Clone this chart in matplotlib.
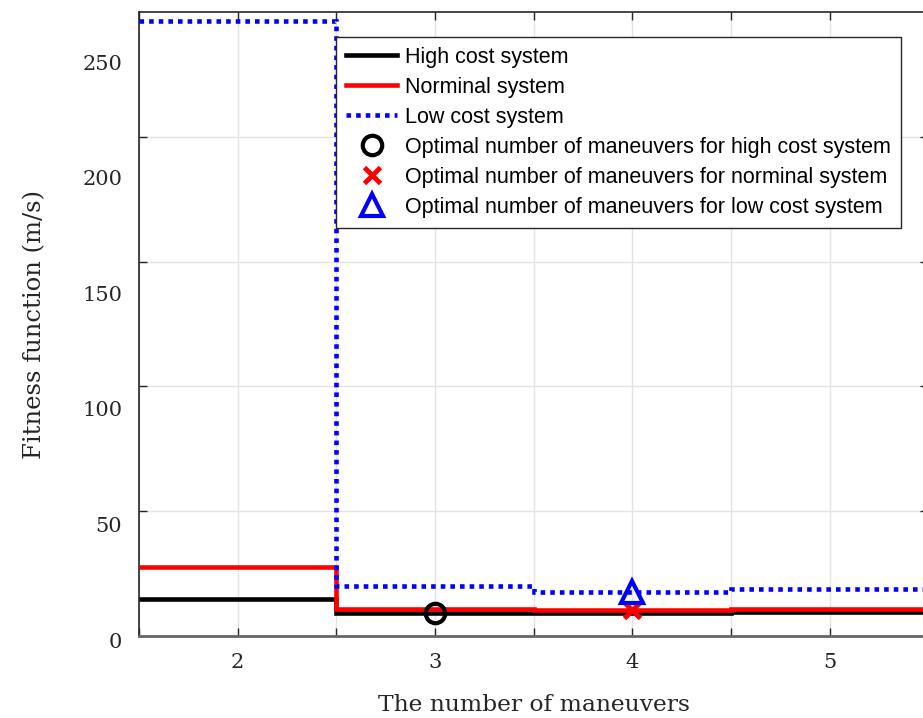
import numpy as np
import matplotlib.pyplot as plt
import matplotlib.transforms as mtransforms

# maneuver counts and the step edges between them
maneuvers = [2, 3, 4, 5]
edges = [1.5, 2.5, 3.5, 4.5, 5.5]

# fitness function (m/s) for each system
high_cost = [15.8, 9.9, 10.1, 10.2]
nominal = [29.7, 11.5, 11.2, 11.7]
low_cost = [266.0, 21.7, 19.1, 20.3]

# optimal maneuver count of each system
opt_high = 3
opt_nominal = 4
opt_low = 4

y_labels = [0, 50, 100, 150, 200, 250]
y_top = 270

fig = plt.figure(figsize=(9.23, 7.18), dpi=100)
ax = fig.add_axes([0.1506, 0.1142, 0.855, 0.869])

ax.stairs(high_cost, edges, baseline=None, color='black', linewidth=3.3,
          label='High cost system', zorder=3)
ax.stairs(nominal, edges, baseline=None, color='red', linewidth=3.3,
          label='Norminal system', zorder=4)
ax.stairs(low_cost, edges, baseline=None, color='blue', linewidth=3.3,
          linestyle=(0, (1, 1.1)), label='Low cost system', zorder=5)

ax.plot(opt_high, high_cost[maneuvers.index(opt_high)], 'o', color='black',
        markersize=14, markeredgewidth=3, markerfacecolor='none',
        label='Optimal number of maneuvers for high cost system', zorder=6)
ax.plot(opt_nominal, nominal[maneuvers.index(opt_nominal)], 'x', color='red',
        markersize=12, markeredgewidth=3.5,
        label='Optimal number of maneuvers for norminal system', zorder=6)
ax.plot(opt_low, low_cost[maneuvers.index(opt_low)], '^', color='blue',
        markersize=16, markeredgewidth=3, markerfacecolor='none',
        label='Optimal number of maneuvers for low cost system', zorder=6)

ax.set_xlim(1.5, 5.5)
ax.set_ylim(0, y_top)

# x: ticks every half step, labels only on whole counts
xt = np.arange(1.5, 5.51, 0.5)
ax.set_xticks(xt)
ax.set_xticklabels([str(int(v)) if v == int(v) else '' for v in xt])

# y: labels and the grid/tick marks sit on separate positions
ax.set_yticks(y_labels)
ax.set_yticks(np.linspace(0, y_top, 6)[1:-1], minor=True)
ax.tick_params(axis='y', which='major', length=0, pad=12)
ax.tick_params(axis='y', which='minor', direction='in', length=6, width=1,
               color='#262626', left=True, right=True)
ax.tick_params(axis='x', which='major', direction='in', length=6, width=1,
               color='#262626', top=True, bottom=True, pad=12)
ax.tick_params(labelsize=15, labelcolor='#262626')
shift = mtransforms.ScaledTranslation(0, -4 / 100, fig.dpi_scale_trans)
for lab in ax.get_yticklabels():
    lab.set_family('DejaVu Serif')
    lab.set_transform(lab.get_transform() + shift)
for lab in ax.get_xticklabels():
    lab.set_family('DejaVu Serif')

ax.xaxis.grid(True, color='#e3e3e3', linewidth=1)
ax.yaxis.grid(True, which='minor', color='#e3e3e3', linewidth=1)
ax.yaxis.grid(False, which='major')
ax.set_axisbelow(True)

for sp in ax.spines.values():
    sp.set_color('#262626')
    sp.set_linewidth(1.2)
ax.spines['bottom'].set_color('#666666')
ax.spines['bottom'].set_linewidth(2)

ax.set_xlabel('The number of maneuvers', fontsize=16.8, family='DejaVu Serif',
              color='#262626', labelpad=16)
ax.set_ylabel('Fitness function (m/s)', fontsize=17.5, family='DejaVu Serif',
              color='#262626', labelpad=26)

leg = ax.legend(loc='upper left', bbox_to_anchor=(0.2497, 0.960),
                borderaxespad=0, handlelength=2.4,
                handletextpad=0.35, labelspacing=0.42, borderpad=0.45,
                fancybox=False, framealpha=1, edgecolor='#262626',
                prop={'family': 'Liberation Sans', 'size': 15.5})
leg.get_frame().set_linewidth(1)

fig.savefig('out.png', dpi=100)
